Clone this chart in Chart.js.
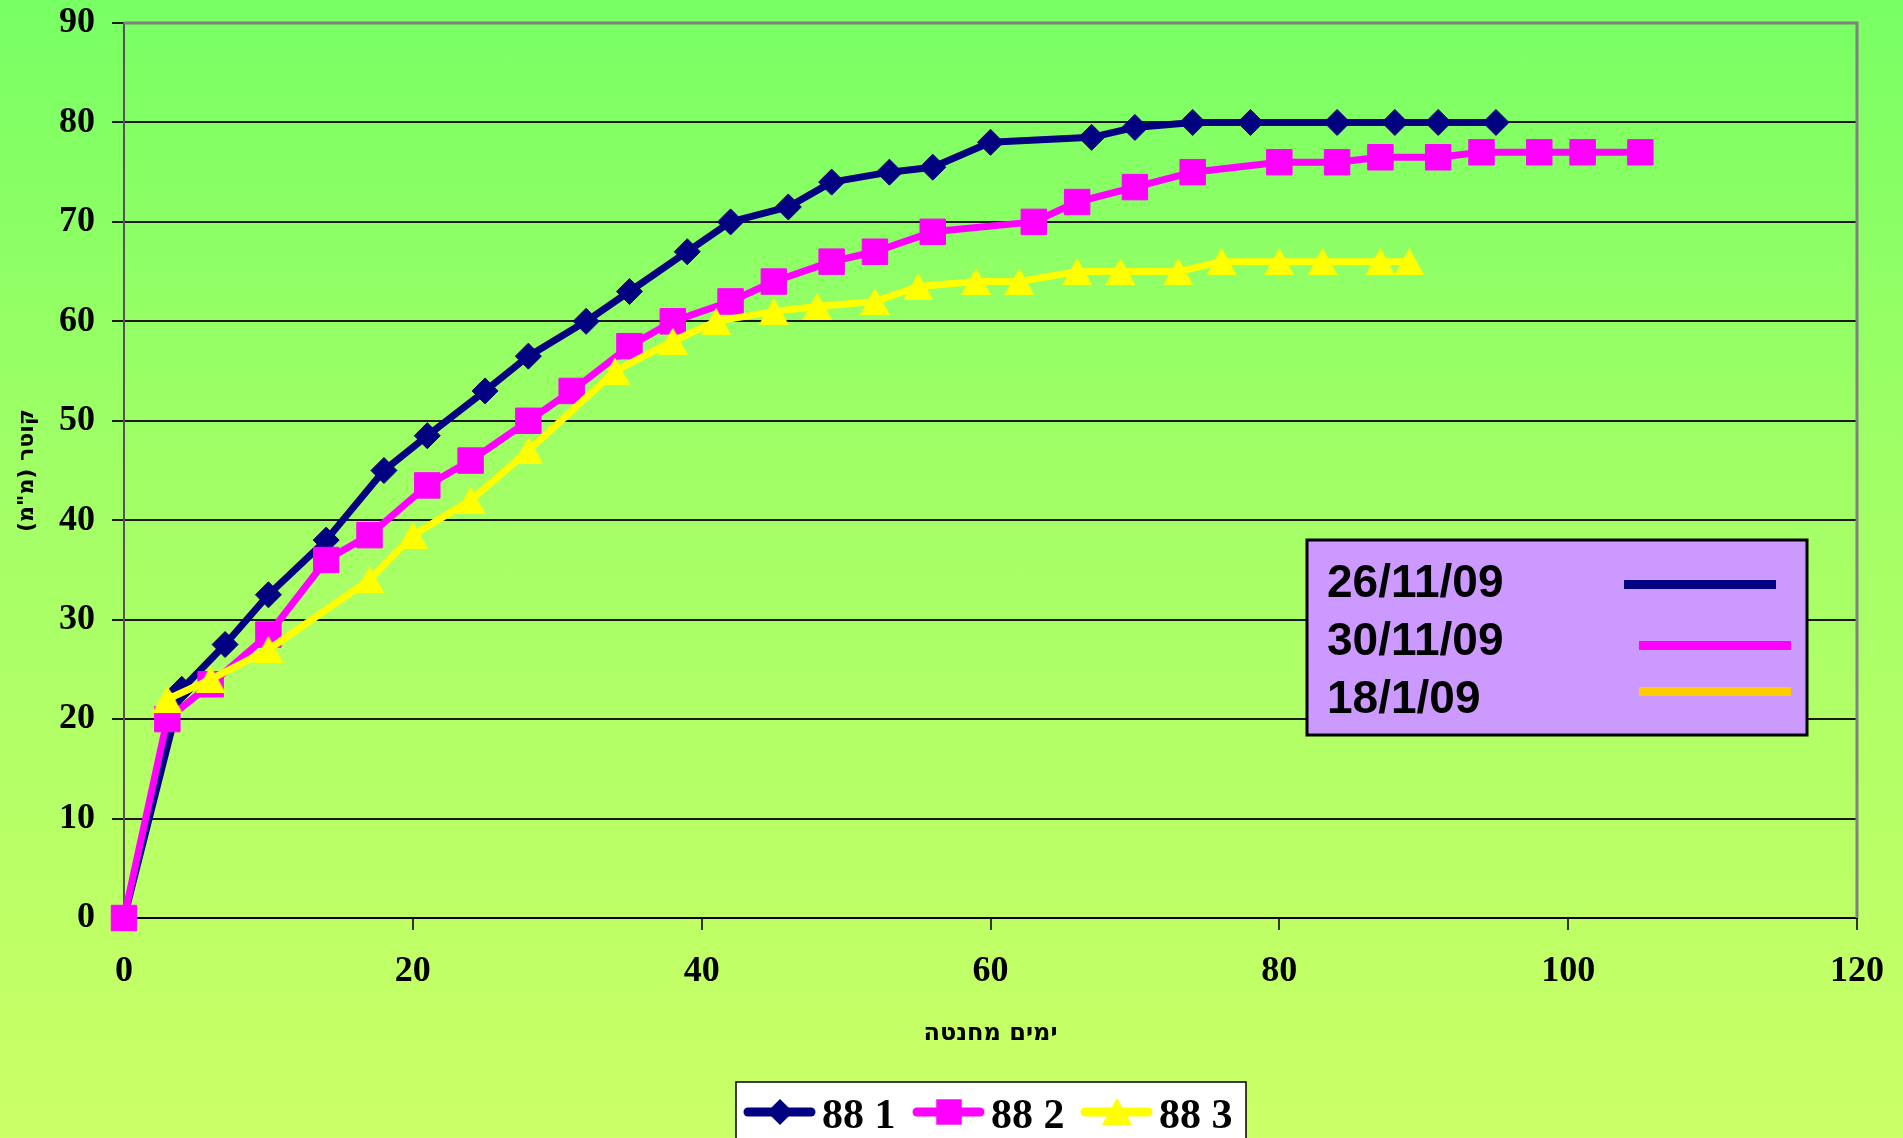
<!DOCTYPE html>
<html>
<head>
<meta charset="utf-8">
<script src="https://cdn.jsdelivr.net/npm/chart.js@4/dist/chart.umd.min.js"></script>
<style>
    html, body {
        margin: 0;
        padding: 0;
        overflow: hidden;
    }
    body {
        width: 1903px;
        height: 1138px;
        background: linear-gradient(to bottom, #78ff64 0%, #a4ff66 45%, #ccff66 100%);
    }
    canvas {
        display: block;
    }
</style>
</head>
<body>
<canvas id="chart" width="1903" height="1138" style="width:1903px;height:1138px"></canvas>
<script>
// data
var days1 = [0, 4, 7, 10, 14, 18, 21, 25, 28, 32, 35, 39, 42, 46, 49, 53, 56, 60, 67, 70, 74, 78, 84, 88, 91, 95];
var diam1 = [0, 23, 27.5, 32.5, 38, 45, 48.5, 53, 56.5, 60, 63, 67, 70, 71.5, 74, 75, 75.5, 78, 78.5, 79.5, 80, 80, 80, 80, 80, 80];

var days2 = [0, 3, 6, 10, 14, 17, 21, 24, 28, 31, 35, 38, 42, 45, 49, 52, 56, 63, 66, 70, 74, 80, 84, 87, 91, 94, 98, 101, 105];
var diam2 = [0, 20, 23.5, 28.5, 36, 38.5, 43.5, 46, 50, 53, 57.5, 60, 62, 64, 66, 67, 69, 70, 72, 73.5, 75, 76, 76, 76.5, 76.5, 77, 77, 77, 77];

var days3 = [3, 6, 10, 17, 20, 24, 28, 34, 38, 41, 45, 48, 52, 55, 59, 62, 66, 69, 73, 76, 80, 83, 87, 89];
var diam3 = [22, 24, 27, 34, 38.5, 42, 47, 55, 58, 60, 61, 61.5, 62, 63.5, 64, 64, 65, 65, 65, 66, 66, 66, 66, 66];

var seriesNames = ['88 1', '88 2', '88 3'];
var dateLabels = ['26/11/09', '30/11/09', '18/1/09'];
var xTitle = 'ימים מחנטה';
var yTitle = 'קוטר (מ"מ)';

var navy = '#000080';
var magenta = '#ff00ff';
var yellow = '#ffff00';

var serif = '"Liberation Serif", "DejaVu Serif", serif';
var sans = '"Liberation Sans", Arial, sans-serif';
var hebrew = '"DejaVu Sans", sans-serif';

// helpers
function toPoints(xs, ys) {
    return xs.map(function (x, i) {
        return { x: x, y: ys[i] };
    });
}

// triangle centred on its box, like the excel marker
function triangleImage(w, h, color) {
    var c = document.createElement('canvas');
    c.width = w;
    c.height = h;
    var g = c.getContext('2d');
    g.fillStyle = color;
    g.beginPath();
    g.moveTo(w / 2, 0);
    g.lineTo(w, h);
    g.lineTo(0, h);
    g.closePath();
    g.fill();
    return c;
}

function marker(ctx, style, x, y, r, color) {
    ctx.save();
    ctx.fillStyle = color;
    ctx.beginPath();
    if (style === 'rectRot') {
        ctx.moveTo(x - r, y);
        ctx.lineTo(x, y - r);
        ctx.lineTo(x + r, y);
        ctx.lineTo(x, y + r);
    }
    else if (style === 'rect') {
        var s = Math.SQRT1_2 * r;
        ctx.rect(x - s, y - s, 2 * s, 2 * s);
    }
    else {
        ctx.moveTo(x, y - 14);
        ctx.lineTo(x + 15, y + 13);
        ctx.lineTo(x - 15, y + 13);
    }
    ctx.closePath();
    ctx.fill();
    ctx.restore();
}

// plot border, date box and the legend at the bottom
var extras = {
    id: 'extras',
    afterDraw: function (chart) {
        var ctx = chart.ctx;
        var area = chart.chartArea;

        ctx.save();

        // gray frame on top and right
        ctx.strokeStyle = '#808080';
        ctx.lineWidth = 3;
        ctx.beginPath();
        ctx.moveTo(area.left, area.top);
        ctx.lineTo(area.right, area.top);
        ctx.lineTo(area.right, area.bottom);
        ctx.stroke();

        // date box
        ctx.fillStyle = '#cc99ff';
        ctx.fillRect(1307, 540, 500, 195);
        ctx.strokeStyle = '#000';
        ctx.lineWidth = 3;
        ctx.strokeRect(1307, 540, 500, 195);

        ctx.fillStyle = '#000';
        ctx.font = 'bold 46px ' + sans;
        ctx.textBaseline = 'alphabetic';
        ctx.textAlign = 'left';
        var rows = [597, 655, 713];
        dateLabels.forEach(function (label, i) {
            ctx.fillText(label, 1327, rows[i]);
        });

        ctx.fillStyle = navy;
        ctx.fillRect(1624, 580, 152, 9);
        ctx.fillStyle = magenta;
        ctx.fillRect(1639, 641, 152, 9);
        ctx.fillStyle = '#ffcc00';
        ctx.fillRect(1639, 687, 152, 9);

        // bottom legend
        ctx.fillStyle = '#fff';
        ctx.fillRect(736, 1082, 510, 70);
        ctx.strokeStyle = '#000';
        ctx.lineWidth = 1.5;
        ctx.strokeRect(736, 1082, 510, 70);

        var items = [
            { x: 744, color: navy, style: 'rectRot', r: 13, tx: 822 },
            { x: 913, color: magenta, style: 'rect', r: 18, tx: 991 },
            { x: 1081, color: yellow, style: 'triangle', r: 18, tx: 1159 }
        ];
        items.forEach(function (item, i) {
            ctx.strokeStyle = item.color;
            ctx.lineWidth = 9;
            ctx.lineCap = 'round';
            ctx.beginPath();
            ctx.moveTo(item.x + 4, 1112);
            ctx.lineTo(item.x + 67, 1112);
            ctx.stroke();
            marker(ctx, item.style, item.x + 36, 1112, item.r, item.color);

            ctx.fillStyle = '#000';
            ctx.font = 'bold 42px ' + serif;
            ctx.fillText(seriesNames[i], item.tx, 1128);
        });

        ctx.restore();
    }
};

function lineSet(label, xs, ys, color, style, radius, order) {
    return {
        label: label,
        data: toPoints(xs, ys),
        borderColor: color,
        backgroundColor: color,
        borderWidth: 7,
        borderJoinStyle: 'round',
        borderCapStyle: 'round',
        pointStyle: style,
        pointRadius: radius,
        pointHoverRadius: radius,
        pointBackgroundColor: color,
        pointBorderColor: color,
        pointBorderWidth: 1,
        tension: 0,
        clip: false,
        order: order
    };
}

window.onload = function () {
    new Chart(document.getElementById('chart'), {
        type: 'line',
        data: {
            datasets: [
                lineSet(seriesNames[0], days1, diam1, navy, 'rectRot', 13, 3),
                lineSet(seriesNames[1], days2, diam2, magenta, 'rect', 18, 2),
                lineSet(seriesNames[2], days3, diam3, yellow, triangleImage(30, 27, yellow), 15, 1)
            ]
        },
        options: {
            responsive: false,
            animation: false,
            devicePixelRatio: 1,
            layout: {
                padding: { top: 23, right: 46, left: 0, bottom: 0 }
            },
            plugins: {
                legend: { display: false },
                tooltip: { enabled: false }
            },
            scales: {
                x: {
                    type: 'linear',
                    position: 'bottom',
                    min: 0,
                    max: 120,
                    afterFit: function (scale) {
                        scale.height = 220;
                        scale.paddingLeft = 0;
                        scale.paddingRight = 0;
                    },
                    ticks: {
                        stepSize: 20,
                        padding: 20,
                        color: '#000',
                        maxRotation: 0,
                        font: { family: serif, size: 36, weight: 'bold' }
                    },
                    grid: {
                        drawOnChartArea: false,
                        drawTicks: true,
                        tickLength: 12,
                        color: '#333',
                        lineWidth: 2
                    },
                    border: { display: true, color: '#000', width: 2 },
                    title: {
                        display: true,
                        text: xTitle,
                        color: '#000',
                        font: { family: hebrew, size: 24, weight: 'bold' },
                        padding: { top: 0, bottom: 90 }
                    }
                },
                y: {
                    min: 0,
                    max: 90,
                    afterFit: function (scale) {
                        scale.width = 124;
                        scale.paddingTop = 0;
                        scale.paddingBottom = 0;
                    },
                    ticks: {
                        stepSize: 10,
                        padding: 17,
                        color: '#000',
                        font: { family: serif, size: 36, weight: 'bold' }
                    },
                    grid: {
                        color: '#1a1a1a',
                        lineWidth: 2,
                        tickLength: 12
                    },
                    border: { display: true, color: '#555', width: 2 },
                    title: {
                        display: true,
                        text: yTitle,
                        color: '#000',
                        font: { family: hebrew, size: 22, weight: 'bold' },
                        padding: { top: 14, bottom: 0 }
                    }
                }
            }
        },
        plugins: [extras]
    });
};
</script>
</body>
</html>
